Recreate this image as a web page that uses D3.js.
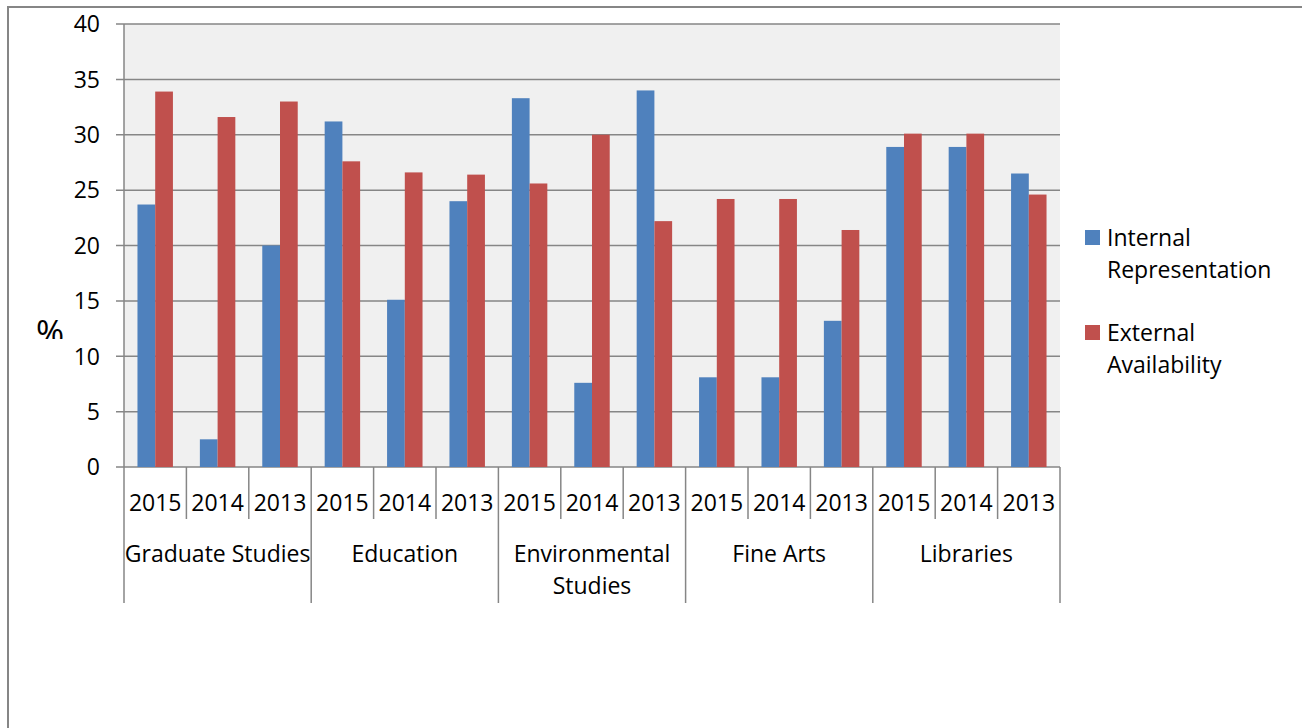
<!DOCTYPE html>
<html lang="en">
<head>
<meta charset="UTF-8">
<title>Internal Representation vs External Availability</title>
<script src="https://d3js.org/d3.v7.min.js"></script>
<style>
    body { margin: 0; background: #fff; }
    text { font-family: "Open Sans", Lato, sans-serif; fill: #000; }
    .grid line { stroke: #868686; stroke-width: 1.5px; }
    .frame { fill: none; stroke: #868686; stroke-width: 2px; }
</style>
</head>
<body>
<svg width="1302" height="728"></svg>
<script>
// chart values
var groups = ["Graduate Studies", "Education", "Environmental Studies", "Fine Arts", "Libraries"];
var groupLines = [["Graduate Studies"], ["Education"], ["Environmental", "Studies"], ["Fine Arts"], ["Libraries"]];
var years = ["2015", "2014", "2013"];
var seriesNames = ["Internal Representation", "External Availability"];
var seriesLines = [["Internal", "Representation"], ["External", "Availability"]];
var seriesColors = ["#4f81bd", "#c0504d"];
var internalRep = [23.7, 2.5, 20.0, 31.2, 15.1, 24.0, 33.3, 7.6, 34.0, 8.1, 8.1, 13.2, 28.9, 28.9, 26.5];
var externalAvail = [33.9, 31.6, 33.0, 27.6, 26.6, 26.4, 25.6, 30.0, 22.2, 24.2, 24.2, 21.4, 30.1, 30.1, 24.6];
var yTicks = [0, 5, 10, 15, 20, 25, 30, 35, 40];

var svg = d3.select("svg");
var fs = "23px";

// outer frame (runs off the page on the right and bottom)
svg.append("path").attr("class", "frame").attr("d", "M8,740V7H1310");

var plotL = 124, plotR = 1060, plotT = 24, plotB = 467;

// one slot for every group/year pair
var slots = [];
groups.forEach(function(g, gi){
    years.forEach(function(yr){
        slots.push({group: gi, year: yr, idx: slots.length});
    });
});

var x0 = d3.scaleBand().domain(d3.range(slots.length)).range([plotL, plotR]).padding(0);
var x1 = d3.scaleBand().domain(d3.range(seriesNames.length)).range([0, x0.bandwidth()])
    .paddingInner(0).paddingOuter(0.76);
var y = d3.scaleLinear().domain([0, 40]).range([plotB, plotT]);

// plot background
svg.append("rect").attr("x", plotL).attr("y", plotT)
    .attr("width", plotR - plotL).attr("height", plotB - plotT)
    .attr("fill", "#f0f0f0");

// gridlines + y ticks
var grid = svg.append("g").attr("class", "grid");
grid.selectAll("line").data(yTicks).enter().append("line")
    .attr("x1", plotL - 8).attr("x2", plotR)
    .attr("y1", function(d){ return y(d); }).attr("y2", function(d){ return y(d); });

svg.append("g").selectAll("text").data(yTicks).enter().append("text")
    .attr("x", 100).attr("y", function(d){ return y(d); })
    .attr("dy", "0.36em").attr("text-anchor", "end")
    .style("font-size", fs)
    .text(function(d){ return d; });

// bars
var values = [internalRep, externalAvail];
var barG = svg.append("g");
values.forEach(function(vals, si){
    barG.selectAll(".s" + si).data(slots).enter().append("rect")
        .attr("class", "s" + si)
        .attr("x", function(d){ return x0(d.idx) + x1(si); })
        .attr("width", x1.bandwidth())
        .attr("y", function(d){ return y(vals[d.idx]); })
        .attr("height", function(d){ return y(0) - y(vals[d.idx]); })
        .attr("fill", seriesColors[si]);
});

// axes lines
var ax = svg.append("g").attr("class", "grid");
ax.append("line").attr("x1", plotL).attr("x2", plotL).attr("y1", plotT).attr("y2", 603);
// year separators, longer at group edges
ax.selectAll(".ysep").data(d3.range(1, slots.length)).enter().append("line")
    .attr("x1", function(d){ return x0(d); }).attr("x2", function(d){ return x0(d); })
    .attr("y1", plotB).attr("y2", function(d){ return d % years.length === 0 ? 603 : 519; });
ax.append("line").attr("x1", plotR).attr("x2", plotR).attr("y1", plotB).attr("y2", 603);

// year labels
svg.append("g").selectAll("text").data(slots).enter().append("text")
    .attr("x", function(d){ return x0(d.idx) + x0.bandwidth() / 2; })
    .attr("y", 511).attr("text-anchor", "middle")
    .style("font-size", fs)
    .text(function(d){ return d.year; });

// group labels
var gw = x0.bandwidth() * years.length;
groupLines.forEach(function(lines, gi){
    var t = svg.append("text")
        .attr("x", plotL + gw * gi + gw / 2).attr("y", 562)
        .attr("text-anchor", "middle").style("font-size", fs);
    lines.forEach(function(l, li){
        t.append("tspan").attr("x", plotL + gw * gi + gw / 2)
            .attr("dy", li === 0 ? 0 : 32).text(l);
    });
});

// y axis title, bottom of the glyph is cut off like in the source
svg.append("clipPath").attr("id", "pctClip")
    .append("rect").attr("x", 20).attr("y", 300).attr("width", 70).attr("height", 39);
svg.append("text").attr("x", 50).attr("y", 345).attr("text-anchor", "middle")
    .attr("clip-path", "url(#pctClip)")
    .style("font-size", "34px").text("%");

// legend
var leg = svg.append("g");
seriesLines.forEach(function(lines, si){
    var ly = 230 + si * 95;
    leg.append("rect").attr("x", 1085).attr("y", ly).attr("width", 15).attr("height", 15)
        .attr("fill", seriesColors[si]);
    var t = leg.append("text").attr("x", 1107).attr("y", ly + 16).style("font-size", fs);
    lines.forEach(function(l, li){
        t.append("tspan").attr("x", 1107).attr("dy", li === 0 ? 0 : 32).text(l);
    });
});
</script>
</body>
</html>
